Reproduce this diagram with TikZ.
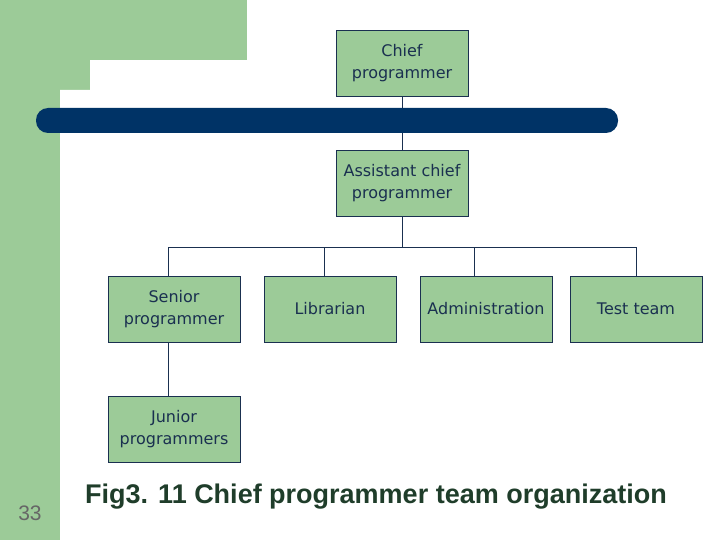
\documentclass[tikz,border=0pt]{standalone}
\usepackage{fontspec}
\setmainfont{Liberation Sans}
\newfontfamily\boxfont{DejaVu Sans}
\definecolor{bggreen}{HTML}{9CCB98}
\definecolor{navy}{HTML}{003366}
\definecolor{txt}{HTML}{1A3050}
\definecolor{capgreen}{HTML}{1F3D2A}
\begin{document}
\begin{tikzpicture}[x=1pt,y=-1pt,
  box/.style={draw=txt,fill=bggreen,minimum width=132pt,minimum height=66pt,inner sep=1pt,align=center,font=\boxfont\fontsize{16}{22}\selectfont,text=txt},
  conn/.style={draw=txt,line width=0.7pt}]
\useasboundingbox (0,0) rectangle (720,540);
\fill[white] (0,0) rectangle (720,540);
\fill[bggreen] (0,0) rectangle (247,60);
\fill[bggreen] (0,0) rectangle (60,540);
\fill[bggreen] (60,60) rectangle (90,90);
\fill[white] (60,90) arc[start angle=180,end angle=90,radius=30] -- (90,90) -- cycle;
\fill[navy,rounded corners=12pt] (36,108) rectangle (618,133);
\node[box] (chief) at (402,63) {Chief\\programmer};
\node[box] (asst) at (402,183) {Assistant chief\\programmer};
\node[box] (sen) at (174,309) {Senior\\programmer};
\node[box] (lib) at (330,309) {Librarian};
\node[box] (adm) at (486,309) {Administration};
\node[box] (test) at (636,309) {Test team};
\node[box] (jun) at (174,429) {Junior\\programmers};
\coordinate (h) at (402,247);
\draw[conn] (chief.south) -- (asst.south |- 0,108);
\draw[conn] (asst.south |- 0,133) -- (asst.north);
\draw[conn] (asst.south) -- (h);
\draw[conn] (168,247) -- (636,247);
\draw[conn] (168,247) -- (168,276);
\draw[conn] (324,247) -- (324,276);
\draw[conn] (474,247) -- (474,276);
\draw[conn] (test.north) -- (636,247);
\draw[conn] (168,342) -- (168,396);
\node[text=capgreen,font=\bfseries\fontsize{27}{32}\selectfont,anchor=west,inner sep=0pt] (cap) at (85,497) {Fig3. 11 Chief programmer team organization};
\node[text=gray!80!black,font=\fontsize{21}{24}\selectfont] (num) at (30,513) {33};
\end{tikzpicture}
\end{document}
